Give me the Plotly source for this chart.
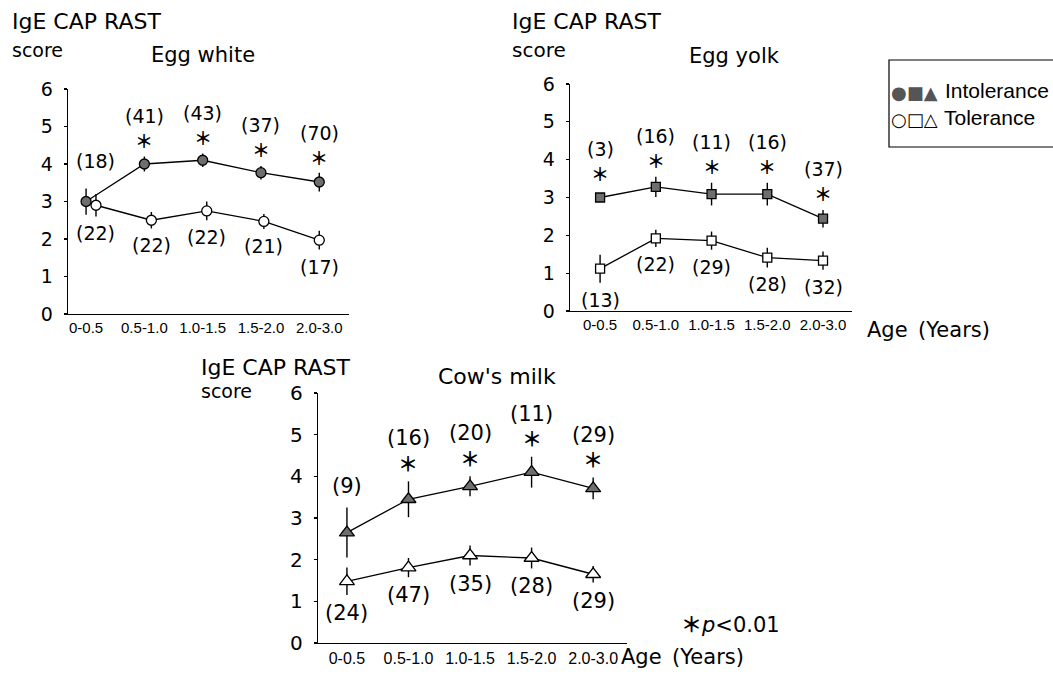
import plotly.graph_objects as go

# ---------------- data ----------------
categories = ["0-0.5", "0.5-1.0", "1.0-1.5", "1.5-2.0", "2.0-3.0"]

egg_white_intol = [3.0, 4.0, 4.1, 3.77, 3.52]
egg_white_intol_err = [0.35, 0.2, 0.18, 0.18, 0.25]
egg_white_intol_n = [18, 41, 43, 37, 70]
egg_white_tol = [2.9, 2.5, 2.75, 2.47, 1.97]
egg_white_tol_err = [0.3, 0.22, 0.25, 0.2, 0.25]
egg_white_tol_n = [22, 22, 22, 21, 17]
egg_white_sig = [False, True, True, True, True]

egg_yolk_intol = [3.0, 3.28, 3.09, 3.09, 2.44]
egg_yolk_intol_err = [0.04, 0.27, 0.3, 0.3, 0.23]
egg_yolk_intol_n = [3, 16, 11, 16, 37]
egg_yolk_tol = [1.12, 1.92, 1.86, 1.41, 1.33]
egg_yolk_tol_err = [0.37, 0.23, 0.24, 0.26, 0.24]
egg_yolk_tol_n = [13, 22, 29, 28, 32]
egg_yolk_sig = [True, True, True, True, True]

milk_intol = [2.65, 3.45, 3.76, 4.1, 3.71]
milk_intol_err = [0.6, 0.43, 0.24, 0.37, 0.26]
milk_intol_n = [9, 16, 20, 11, 29]
milk_tol = [1.48, 1.81, 2.1, 2.04, 1.65]
milk_tol_err = [0.33, 0.23, 0.24, 0.25, 0.2]
milk_tol_n = [24, 47, 35, 28, 29]
milk_sig = [False, True, True, True, True]

y_ticks = [0, 1, 2, 3, 4, 5, 6]

# ---------------- layout helpers ----------------
W, H = 1053, 674
FILL = "#6e6e6e"
SANS = "DejaVu Sans, sans-serif"
ARIAL = "Liberation Sans, Arial, sans-serif"
NARROW = "Liberation Sans Narrow, Liberation Sans, sans-serif"
CJK = "Noto Sans CJK JP, DejaVu Sans, sans-serif"


def px(x):
    return x / W


def py(y):
    return 1 - y / H


panels = [
    dict(sym="circle", size=10, intol=egg_white_intol, intol_err=egg_white_intol_err,
         intol_n=egg_white_intol_n, tol=egg_white_tol, tol_err=egg_white_tol_err, tol_n=egg_white_tol_n,
         sig=egg_white_sig, tol_dx=[0.17, 0.12, 0.07, 0.05, 0.0],
         xdom=(68, 349), ydom=(314, 89), xr=(-0.31, 4.51),
         xfs=15, yfs=19, nfs=19, lab_up=40, star_up=16, nosig_up=27, tol_down=17),
    dict(sym="square", size=9, intol=egg_yolk_intol, intol_err=egg_yolk_intol_err,
         intol_n=egg_yolk_intol_n, tol=egg_yolk_tol, tol_err=egg_yolk_tol_err, tol_n=egg_yolk_tol_n,
         sig=egg_yolk_sig, tol_dx=[0, 0, 0, 0, 0],
         xdom=(570, 852), ydom=(311, 84), xr=(-0.54, 4.52),
         xfs=15, yfs=19, nfs=19, lab_up=41, star_up=17, nosig_up=27, tol_down=17),
    dict(sym="triangle-up", size=13, intol=milk_intol, intol_err=milk_intol_err,
         intol_n=milk_intol_n, tol=milk_tol, tol_err=milk_tol_err, tol_n=milk_tol_n,
         sig=milk_sig, tol_dx=[0, 0, 0, 0, 0],
         xdom=(318, 627), ydom=(643, 393), xr=(-0.47, 4.55),
         xfs=16, yfs=20, nfs=21, lab_up=43, star_up=18, nosig_up=22, tol_down=18),
]

fig = go.Figure()
annotations = []

for k, p in enumerate(panels):
    sfx = "" if k == 0 else str(k + 1)
    xref, yref = "x" + sfx, "y" + sfx
    xi = list(range(len(categories)))
    xt = [i + d for i, d in zip(xi, p["tol_dx"])]

    # tolerance (open markers)
    fig.add_trace(go.Scatter(
        x=xt, y=p["tol"], mode="lines+markers", xaxis=xref, yaxis=yref,
        line=dict(color="black", width=1.3),
        marker=dict(symbol=p["sym"], size=p["size"], color="white", line=dict(color="black", width=1.3)),
        error_y=dict(type="data", array=p["tol_err"], color="black", thickness=1.4, width=0),
        hoverinfo="skip"))
    # intolerance (filled markers)
    fig.add_trace(go.Scatter(
        x=xi, y=p["intol"], mode="lines+markers", xaxis=xref, yaxis=yref,
        line=dict(color="black", width=1.3),
        marker=dict(symbol=p["sym"], size=p["size"], color=FILL, line=dict(color="black", width=1.3)),
        error_y=dict(type="data", array=p["intol_err"], color="black", thickness=1.4, width=0),
        hoverinfo="skip"))

    fig.update_layout(**{
        "xaxis" + sfx: dict(domain=[px(p["xdom"][0]), px(p["xdom"][1])], range=list(p["xr"]),
                            anchor=yref, showline=True, linecolor="black", linewidth=1.3,
                            showgrid=False, zeroline=False, ticks="", automargin=False,
                            tickangle=0, tickvals=xi, ticktext=categories,
                            tickfont=dict(family=NARROW, size=p["xfs"], color="black")),
        "yaxis" + sfx: dict(domain=[py(p["ydom"][0]), py(p["ydom"][1])], range=[0, 6],
                            anchor=xref, showline=True, linecolor="black", linewidth=1.3,
                            showgrid=False, zeroline=False, ticks="outside", ticklen=3,
                            tickcolor="black", tickwidth=1.2, tickvals=y_ticks, automargin=False,
                            ticklabelstandoff=7,
                            tickfont=dict(family=SANS, size=p["yfs"], color="black")),
    })

    # count labels and asterisks
    nfont = dict(family=SANS, size=p["nfs"], color="black")
    for i in xi:
        top = p["intol"][i] + max(p["intol_err"][i], 0.2)
        if p["sig"][i]:
            annotations.append(dict(x=i, y=top, xref=xref, yref=yref, text="＊", showarrow=False,
                                    yanchor="middle", yshift=p["star_up"],
                                    font=dict(family=CJK, size=p["nfs"] - 1, color="black", weight=700)))
            annotations.append(dict(x=i, y=top, xref=xref, yref=yref, text=f"({p['intol_n'][i]})",
                                    showarrow=False, yanchor="middle", yshift=p["lab_up"], font=nfont))
        else:
            annotations.append(dict(x=xt[i], y=p["intol"][i] + p["intol_err"][i], xref=xref, yref=yref,
                                    text=f"({p['intol_n'][i]})", showarrow=False, yanchor="middle",
                                    yshift=p["nosig_up"], font=nfont))
        bot = p["tol"][i] - p["tol_err"][i]
        annotations.append(dict(x=xt[i], y=bot, xref=xref, yref=yref, text=f"({p['tol_n'][i]})",
                                showarrow=False, yanchor="middle", yshift=-p["tol_down"], font=nfont))


def txt(x, y, s, size=20, family=SANS, color="black"):
    annotations.append(dict(x=px(x), y=py(y), xref="paper", yref="paper", text=s, showarrow=False,
                            xanchor="left", yanchor="middle", borderpad=0,
                            font=dict(family=family, size=size, color=color)))


# axis titles / panel titles
txt(11, 21, "IgE CAP RAST", 22)
txt(11, 50, "score", 19)
txt(150, 55, "Egg white", 21)
txt(511, 21, "IgE CAP RAST", 22)
txt(511, 50, "score", 20)
txt(688, 56, "Egg yolk", 21)
txt(200, 367, "IgE CAP RAST", 22)
txt(200, 391, "score", 19)
txt(437, 376, "Cow's milk", 22)
txt(866, 330, "Age\u2002(Years)", 21)
txt(620, 657, "Age\u2002(Years)", 21)
txt(680, 623, "<span style='font-family:Noto Sans CJK JP'><b>＊</b></span><i>p</i>&lt;0.01", 21)

# legend (text glyph style, as in the reference)
txt(890, 92, "●■▲", 18, SANS, "#555555")
txt(890, 119, "○□△", 18, SANS)
txt(944, 91, "Intolerance", 21, ARIAL)
txt(943, 118, "Tolerance", 21, ARIAL)

fig.update_layout(
    template="none",
    width=W, height=H, margin=dict(l=0, r=0, t=0, b=0, pad=0),
    paper_bgcolor="white", plot_bgcolor="white", showlegend=False,
    font=dict(color="black"),
    annotations=annotations,
    shapes=[dict(type="rect", xref="paper", yref="paper", x0=px(889), x1=1.02, y0=py(147), y1=py(60),
                 line=dict(color="black", width=1.2))],
)

fig.write_html(
    "out.html",
    config={"displayModeBar": False, "staticPlot": True},
    post_script="document.body.style.margin='0';document.body.style.padding='0';"
                "document.body.style.overflow='hidden';",
)
